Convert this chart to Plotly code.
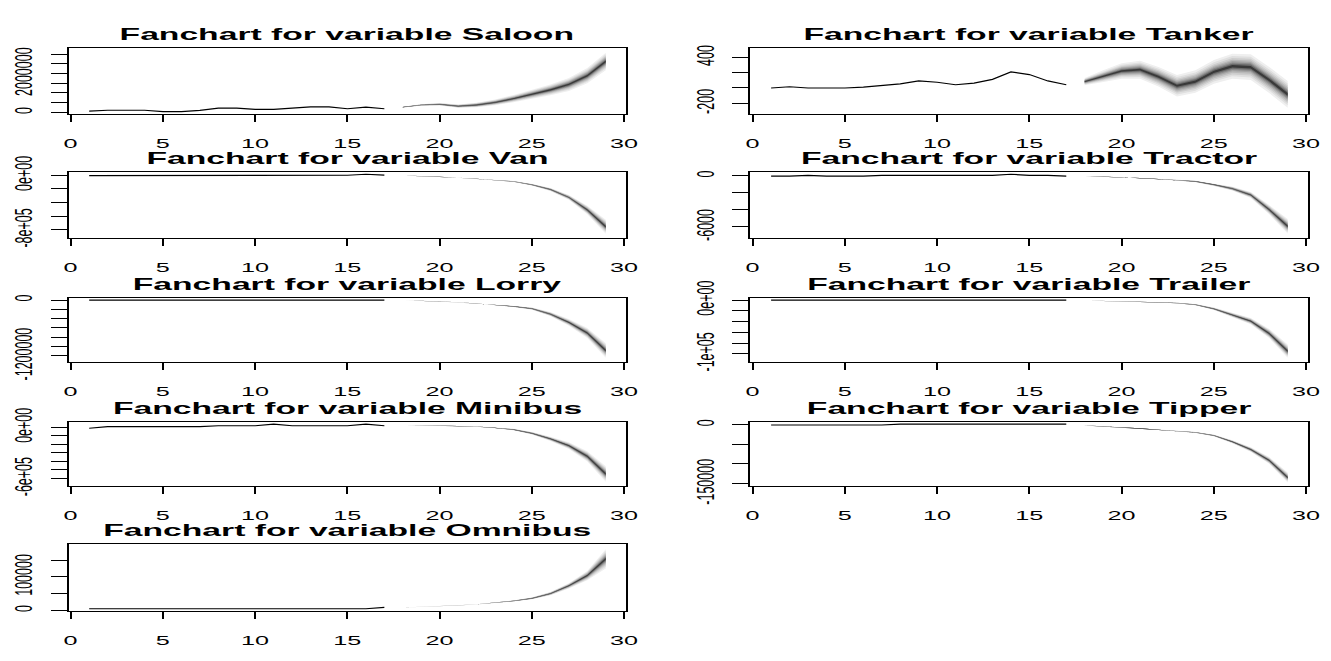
import plotly.graph_objects as go

# ---------------- data ----------------
hist_t = list(range(1, 18))
fc_t = list(range(18, 30))

names = ["Saloon", "Tanker", "Van", "Tractor", "Lorry", "Trailer", "Minibus", "Tipper", "Omnibus"]

saloon_hist = [63000, 112000, 112000, 112000, 44000, 44000, 110000, 224000, 224000, 160000,
               160000, 209000, 287000, 287000, 190000, 272000, 190000]
saloon_fc = [272000, 384000, 418000, 321000, 384000, 515000, 710000, 919000, 1160000, 1440000,
             1890000, 2620000]
saloon_hw = [30000, 50000, 80000, 110000, 150000, 190000, 240000, 300000, 360000, 430000,
             500000, 580000]

tanker_hist = [0, 16, 0, 0, 0, 12, 33, 54, 92, 75, 42, 63, 113, 210, 176, 92, 42]
tanker_fc = [84, 155, 222, 239, 147, 29, 84, 210, 285, 273, 104, -84]
tanker_hw = [60, 100, 130, 150, 165, 180, 190, 200, 210, 215, 220, 225]

van_hist = [-5000, -4000, -4000, -3000, -3000, -3000, -2000, -2000, -2000, -2000, -1000,
            -1000, -1000, 0, 0, 15000, 3000]
van_fc = [-5000, -12000, -22000, -35000, -50000, -68000, -91000, -139000, -208000, -324000,
          -508000, -754000]
van_hw = [50, 100, 150, 250, 400, 1000, 9000, 16000, 28000, 45000, 80000, 131000]

tractor_hist = [-50, -50, 50, -50, -50, -50, 40, 40, 40, 40, 40, 40, 40, 180, 40, 40, -30]
tractor_fc = [-60, -100, -170, -260, -380, -520, -665, -1040, -1510, -2250, -3980, -5930]
tractor_hw = [1, 2, 3, 5, 10, 70, 120, 200, 300, 450, 700, 1100]

lorry_hist = [-3000] * 17
lorry_fc = [-8000, -18000, -32000, -50000, -75000, -103000, -138000, -185000, -303000,
            -480000, -708000, -1082000]
lorry_hw = [100, 200, 300, 500, 800, 2000, 16000, 30000, 55000, 90000, 140000, 200000]

trailer_hist = [-200] * 17
trailer_fc = [-800, -1500, -2300, -3200, -4300, -5600, -8700, -16300, -27700, -39300, -62300,
              -95200]
trailer_hw = [10, 20, 30, 50, 400, 800, 1500, 2800, 4800, 7500, 11000, 16000]

minibus_hist = [-12000, 6000, 6000, 6000, 6000, 6000, 6000, 17000, 17000, 17000, 35000,
                17000, 17000, 17000, 17000, 35000, 17000]
minibus_fc = [25000, 22000, 18000, 13000, 7500, -7000, -28000, -71000, -136000, -216000,
              -341000, -546000]
minibus_hw = [50, 100, 150, 300, 3000, 6000, 11000, 19000, 31000, 50000, 78000, 116000]

tipper_hist = [-1000, -1000, -1000, -1000, -1000, -1000, -1000, 1000, 1000, 1000, 1000, 1000,
               1000, 1000, 1000, 1000, 1000]
tipper_fc = [-2000, -4000, -6500, -9500, -13000, -16500, -19900, -27700, -43600, -63300,
             -91000, -134400]
tipper_hw = [10, 20, 30, 50, 80, 150, 1500, 2800, 4800, 7500, 11000, 16000]

omnibus_hist = [5000] * 16 + [9000]
omnibus_fc = [9000, 10500, 12500, 15000, 18000, 22000, 28200, 35900, 50000, 73400, 103700,
              153400]
omnibus_hw = [5, 10, 15, 25, 50, 1000, 2000, 3500, 6000, 10000, 18000, 37000]

x_ticks = [0, 5, 10, 15, 20, 25, 30]

y_tickvals = {
    "Saloon": [0, 500000, 1000000, 1500000, 2000000, 2500000, 3000000],
    "Tanker": [-200, 0, 200, 400],
    "Van": [-800000, -600000, -400000, -200000, 0],
    "Tractor": [-6000, -4000, -2000, 0],
    "Lorry": [-1200000, -1000000, -800000, -600000, -400000, -200000, 0],
    "Trailer": [-100000, -80000, -60000, -40000, -20000, 0],
    "Minibus": [-600000, -500000, -400000, -300000, -200000, -100000, 0],
    "Tipper": [-150000, -100000, -50000, 0],
    "Omnibus": [0, 50000, 100000, 150000],
}
y_ticktext = {
    "Saloon": ["0", "", "", "", "2000000", "", ""],
    "Tanker": ["-200", "", "", "400"],
    "Van": ["-8e+05", "", "", "", "0e+00"],
    "Tractor": ["-6000", "", "", "0"],
    "Lorry": ["-1200000", "", "", "", "", "", "0"],
    "Trailer": ["-1e+05", "", "", "", "", "0e+00"],
    "Minibus": ["-6e+05", "", "", "", "", "", "0e+00"],
    "Tipper": ["-150000", "", "", "0"],
    "Omnibus": ["0", "", "100000", ""],
}

series = {
    "Saloon": (saloon_hist, saloon_fc, saloon_hw),
    "Tanker": (tanker_hist, tanker_fc, tanker_hw),
    "Van": (van_hist, van_fc, van_hw),
    "Tractor": (tractor_hist, tractor_fc, tractor_hw),
    "Lorry": (lorry_hist, lorry_fc, lorry_hw),
    "Trailer": (trailer_hist, trailer_fc, trailer_hw),
    "Minibus": (minibus_hist, minibus_fc, minibus_hw),
    "Tipper": (tipper_hist, tipper_fc, tipper_hw),
    "Omnibus": (omnibus_hist, omnibus_fc, omnibus_hw),
}

# confidence levels 0.1 ... 0.9 (normal quantiles) and their grey shades
cis = [0.1, 0.2, 0.3, 0.4, 0.5, 0.6, 0.7, 0.8, 0.9]
z_vals = [0.1257, 0.2533, 0.3853, 0.5244, 0.6745, 0.8416, 1.0364, 1.2816, 1.6449]
ci_colors = ["#393939", "#696969", "#898989", "#a3a3a3", "#b9b9b9", "#cdcdcd", "#dfdfdf",
             "#efefef", "#ffffff"]

# ---------------- layout geometry (screen pixels) ----------------
W, H = 1331, 661
OFF = 8  # page body margin of the exported html
col_px = [(67.8, 628.2), (752.8, 1313.2)]
row_px = [(32, 102), (163, 233), (296, 364), (427, 495), (556, 627)]

FONT = "Liberation Sans, Arial, sans-serif"

fig = go.Figure()
layout = dict(
    width=W, height=H, margin=dict(l=0, r=0, t=0, b=0),
    paper_bgcolor="white", plot_bgcolor="white", showlegend=False,
    annotations=[],
)


def px_x(v):
    return (v - OFF) / W


def px_y(v):
    return 1 - (v - OFF) / H


for k, name in enumerate(names):
    r, c = divmod(k, 2)
    ax = "" if k == 0 else str(k + 1)
    hist, fc, hw = series[name]

    # fan polygons, widest band first
    lows90 = [m - h for m, h in zip(fc, hw)]
    ups90 = [m + h for m, h in zip(fc, hw)]
    for i in range(len(cis) - 1, -1, -1):
        f = z_vals[i] / z_vals[-1]
        lo = [m - h * f for m, h in zip(fc, hw)]
        up = [m + h * f for m, h in zip(fc, hw)]
        fig.add_trace(go.Scatter(
            x=fc_t + fc_t[::-1], y=lo + up[::-1], fill="toself",
            fillcolor=ci_colors[i], line=dict(width=0), mode="lines",
            hoverinfo="skip", xaxis="x" + ax, yaxis="y" + ax))
    fig.add_trace(go.Scatter(x=hist_t, y=hist, mode="lines",
                             line=dict(color="black", width=1.2),
                             xaxis="x" + ax, yaxis="y" + ax))

    ymin = min(hist + lows90)
    ymax = max(hist + ups90)
    pad = 0.04 * (ymax - ymin)

    x0, x1 = col_px[c]
    yt, yb = row_px[r]
    common = dict(showline=True, mirror=True, linecolor="black",
                  showgrid=False, zeroline=False, ticks="outside", tickcolor="black")
    layout["xaxis" + ax] = dict(
        common, domain=[px_x(x0), px_x(x1)], range=[-0.12, 30.12], linewidth=1.2,
        anchor="y" + ax, tickvals=x_ticks, ticktext=[str(v) for v in x_ticks],
        ticklen=7, tickwidth=2, ticklabelstandoff=11,
        tickfont=dict(family=FONT, size=12, color="black"))
    layout["yaxis" + ax] = dict(
        common, domain=[px_y(yb), px_y(yt)], range=[ymin - pad, ymax + pad], linewidth=2,
        anchor="x" + ax, tickvals=y_tickvals[name], ticktext=y_ticktext[name],
        ticklen=16, tickwidth=1.2, tickangle=-90, ticklabelstandoff=17,
        tickfont=dict(family=FONT, size=12.5, color="black"))
    layout["annotations"].append(dict(
        text="<b>Fanchart for variable " + name + "</b>", xref="paper", yref="paper",
        x=px_x((x0 + x1) / 2), y=px_y(yt - 14), xanchor="center", yanchor="middle",
        showarrow=False, font=dict(family=FONT, size=17, color="black")))

fig.update_layout(**layout)

# the reference graphic was drawn narrow and then widened: widen the glyphs the same way
post_js = """
var gd = document.getElementById('{plot_id}');
function widen(el, sx, sy) {
  var b = el.getBBox();
  var cx = b.x + b.width / 2, cy = b.y + b.height / 2;
  var t = el.getAttribute('transform') || '';
  el.setAttribute('transform', t + ' matrix(' + sx + ',0,0,' + sy + ',' + (cx * (1 - sx)) + ',' + (cy * (1 - sy)) + ')');
}
gd.querySelectorAll('.annotation-text').forEach(function (el) { widen(el, 1.98, 1); });
gd.querySelectorAll('.xaxislayer-above text').forEach(function (el) { widen(el, 2.1, 1); });
gd.querySelectorAll('.yaxislayer-above text').forEach(function (el) { widen(el, 1, 1.9); });
"""
fig.write_html("out.html", post_script=post_js)
